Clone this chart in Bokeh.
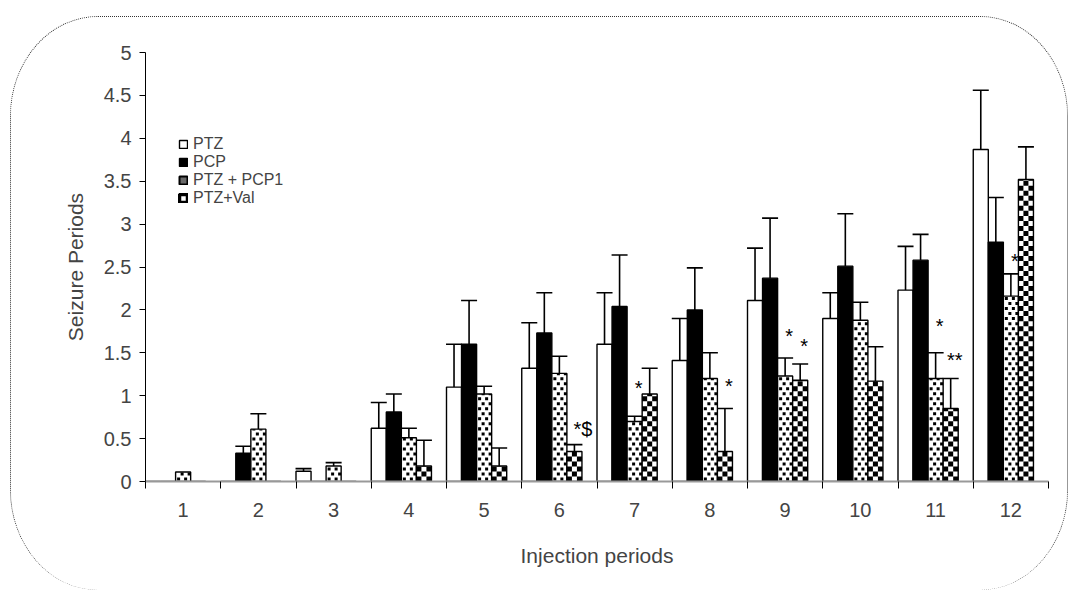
import math
import numpy as np
from bokeh.plotting import figure
from bokeh.models import (Range1d, FixedTicker, NumeralTickFormatter, Whisker,
                          ColumnDataSource, Legend, LegendItem, TeeHead)
from bokeh.core.properties import value
from bokeh.embed import file_html
from bokeh.resources import INLINE

# ---------------- data ----------------
periods = ["1", "2", "3", "4", "5", "6", "7", "8", "9", "10", "11", "12"]
series_names = ["PTZ", "PCP", "PTZ + PCP1", "PTZ+Val"]

ptz = [0.0, 0.0, 0.12, 0.62, 1.10, 1.32, 1.60, 1.41, 2.11, 1.90, 2.23, 3.87]
ptz_se = [0.0, 0.0, 0.03, 0.30, 0.50, 0.53, 0.60, 0.49, 0.61, 0.30, 0.51, 0.69]

pcp = [0.0, 0.33, 0.0, 0.81, 1.60, 1.73, 2.04, 2.00, 2.37, 2.51, 2.58, 2.79]
pcp_se = [0.0, 0.08, 0.0, 0.21, 0.51, 0.47, 0.60, 0.49, 0.70, 0.61, 0.30, 0.52]

ptz_pcp1 = [0.11, 0.61, 0.18, 0.51, 1.02, 1.26, 0.70, 1.20, 1.23, 1.88, 1.20, 2.16]
ptz_pcp1_se = [0.0, 0.18, 0.04, 0.11, 0.09, 0.20, 0.06, 0.30, 0.21, 0.21, 0.30, 0.26]

ptz_val = [0.0, 0.0, 0.0, 0.18, 0.18, 0.35, 1.02, 0.35, 1.18, 1.17, 0.85, 3.52]
ptz_val_se = [0.0, 0.0, 0.0, 0.30, 0.21, 0.08, 0.30, 0.50, 0.19, 0.40, 0.35, 0.38]

y_ticks = [0, 0.5, 1, 1.5, 2, 2.5, 3, 3.5, 4, 4.5, 5]

# significance marks: (period index, series index, text, y of mark centre)
ann_group = [6, 7, 8, 8, 10, 10, 11]
ann_series = [2, 3, 2, 3, 2, 3, 2]
ann_text = ["*", "*", "*", "*", "*", "**", "*"]
ann_y = [1.09, 1.11, 1.69, 1.58, 1.81, 1.42, 2.57]

ann2_group = [5]
ann2_series = [3]
ann2_text = ["*$"]
ann2_y = [0.58]

# ---------------- figure ----------------
FONT = "Liberation Sans"
n = len(periods)
idx = np.arange(n)
bar_w = 0.2
Y_MAX = 5
FRAME_W, FRAME_H = 901, 428          # plot-area size in px
px_x = FRAME_W / n                   # px per x unit
px_y = FRAME_H / Y_MAX               # px per y unit

p = figure(width=1058, height=574, x_range=Range1d(0, n), y_range=Range1d(0, Y_MAX),
           output_backend="svg", toolbar_location=None,
           min_border_left=134, min_border_right=21, min_border_top=35,
           min_border_bottom=110)
p.styles = {"margin-left": "10px", "margin-top": "16px",
            "border": "1px dotted #333", "border-bottom": "none",
            "border-radius": "88px / 100px",
            "box-sizing": "border-box", "overflow": "hidden"}
p.outline_line_color = None
p.xgrid.visible = False
p.ygrid.visible = False
p.background_fill_color = "white"
p.border_fill_alpha = 0

all_vals = [ptz, pcp, ptz_pcp1, ptz_val]
all_se = [ptz_se, pcp_se, ptz_pcp1_se, ptz_val_se]
fills = ["white", "black", "white", "white"]
# legend swatch looks (approximating the tiny patterned swatches)
swatch_fill = ["white", "black", "#6a6a6a", "white"]
swatch_lw = [1.4, 1.4, 2.0, 3.5]


def dot_cells(xc, top):
    """small staggered squares (dotted fill) inside one bar"""
    L, R, B, T = [], [], [], []
    pitch, sq = 5.0, 3.0
    rows = int(math.ceil(top * px_y / pitch))
    x0 = xc - bar_w / 2
    for r in range(rows):
        b = (r * pitch + 1) / px_y
        t = min(b + sq / px_y, top)
        if t <= b:
            continue
        offs = [1.5, 8.5] if r % 2 == 0 else [5.0, 12.0]
        for o in offs:
            L.append(x0 + o / px_x)
            R.append(x0 + (o + sq) / px_x)
            B.append(b)
            T.append(t)
    return L, R, B, T


def checker_cells(xc, top):
    """checkerboard fill inside one bar (3 columns)"""
    L, R, B, T = [], [], [], []
    cw = bar_w / 3
    ch = 5.0 / px_y
    rows = int(math.ceil(top / ch))
    x0 = xc - bar_w / 2
    for r in range(rows):
        b = r * ch
        t = min(b + ch, top)
        for c in range(3):
            if (r + c) % 2 == 0:
                L.append(x0 + c * cw)
                R.append(x0 + (c + 1) * cw)
                B.append(b)
                T.append(t)
    return L, R, B, T


bar_x = []
swatches = []
for j, (vals, se) in enumerate(zip(all_vals, all_se)):
    vals = np.array(vals)
    se = np.array(se)
    x = idx + bar_w * (j + 0.5)
    bar_x.append(x)
    src = ColumnDataSource(dict(x=x, top=vals))
    p.vbar(x="x", top="top", bottom=0, width=bar_w, source=src,
           fill_color=fills[j], line_color=None)
    if j in (2, 3):
        L, R, B, T = [], [], [], []
        f = dot_cells if j == 2 else checker_cells
        for xc, tp in zip(x, vals):
            l, r_, b, t = f(xc, tp)
            L += l; R += r_; B += b; T += t
        p.quad(left=L, right=R, bottom=B, top=T, fill_color="black", line_color=None)
    p.vbar(x="x", top="top", bottom=0, width=bar_w, source=src,
           fill_alpha=0, line_color="black", line_width=1.4)
    # hidden renderer used only for the legend swatch
    sr = p.vbar(x="x", top="top", bottom=0, width=bar_w, source=src,
                fill_color=swatch_fill[j], line_color="black", line_width=swatch_lw[j])
    sr.visible = False
    swatches.append(sr)
    m = se > 0
    wsrc = ColumnDataSource(dict(x=x[m], lower=vals[m], upper=(vals + se)[m]))
    w = Whisker(source=wsrc, base="x", lower="lower", upper="upper",
                dimension="height", line_color="black", line_width=1.6,
                upper_head=TeeHead(size=16, line_width=1.6, line_color="black"),
                lower_head=None)
    p.add_layout(w)

# significance annotations
ax = [bar_x[s][g] for g, s in zip(ann_group, ann_series)]
p.text(x=ax, y=ann_y, text=ann_text, text_font=value(FONT), text_font_size="20px",
       text_align="center", text_baseline="alphabetic", x_offset=4, y_offset=0,
       text_color="black")
ax2 = [bar_x[s][g] for g, s in zip(ann2_group, ann2_series)]
p.text(x=ax2, y=ann2_y, text=ann2_text, text_font=value(FONT), text_font_size="20px",
       text_align="left", text_baseline="alphabetic", x_offset=-1, y_offset=-3,
       text_color="black")

# ---------------- axes ----------------
yax = p.yaxis[0]
yax.ticker = FixedTicker(ticks=y_ticks)
yax.formatter = NumeralTickFormatter(format="0.[0]")
yax.major_tick_out = 6
yax.major_tick_in = 0
yax.minor_tick_out = 0
yax.minor_tick_in = 0
yax.axis_line_color = "black"
yax.major_tick_line_color = "black"
yax.major_label_text_font = FONT
yax.major_label_text_font_size = "20px"
yax.major_label_standoff = 8
yax.axis_label = "Seizure Periods"
yax.axis_label_text_font = FONT
yax.axis_label_text_font_size = "21px"
yax.axis_label_text_font_style = "normal"
yax.axis_label_standoff = 14

xax = p.xaxis[0]
centers = list(idx + 0.5)
xax.ticker = FixedTicker(ticks=centers, minor_ticks=list(range(n + 1)))
xax.major_label_overrides = {float(c): lab for c, lab in zip(centers, periods)}
xax.major_tick_out = 0
xax.major_tick_in = 0
xax.minor_tick_out = 7
xax.minor_tick_in = 0
xax.minor_tick_line_color = "black"
xax.axis_line_color = "#999999"
xax.axis_line_width = 2
xax.major_label_text_font = FONT
xax.major_label_text_font_size = "20px"
xax.major_label_standoff = 14
xax.axis_label = "Injection periods"
xax.axis_label_text_font = FONT
xax.axis_label_text_font_size = "21px"
xax.axis_label_text_font_style = "normal"
xax.axis_label_standoff = 24

# ---------------- legend ----------------
legend = Legend(items=[LegendItem(label=nm, renderers=[r], index=0)
                       for nm, r in zip(series_names, swatches)],
                location=(33, 274), orientation="vertical",
                glyph_width=10, glyph_height=10, label_standoff=5,
                label_text_font=FONT, label_text_font_size="16px",
                label_text_line_height=1.0,
                label_height=13, spacing=0, padding=0, margin=0,
                border_line_color=None, background_fill_alpha=0)
p.add_layout(legend)

open("out.html", "w").write(file_html(p, INLINE))
